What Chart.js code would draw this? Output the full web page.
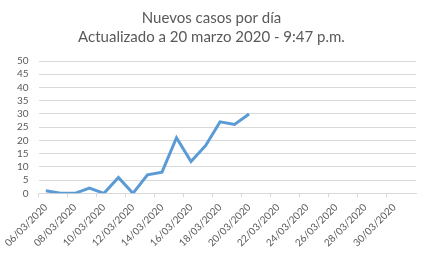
<!DOCTYPE html>
<html>
<head>
<meta charset="utf-8">
<script src="https://cdn.jsdelivr.net/npm/chart.js@4"></script>
<style>
  html, body { margin: 0; padding: 0; background: #fff; }
  #wrap { width: 424px; height: 254px; }
</style>
</head>
<body>
<div id="wrap"><canvas id="myChart" width="424" height="254"></canvas></div>
<script>
// fechas del 06/03 al 31/03
const dias = [
  "06/03/2020", "07/03/2020", "08/03/2020", "09/03/2020", "10/03/2020",
  "11/03/2020", "12/03/2020", "13/03/2020", "14/03/2020", "15/03/2020",
  "16/03/2020", "17/03/2020", "18/03/2020", "19/03/2020", "20/03/2020",
  "21/03/2020", "22/03/2020", "23/03/2020", "24/03/2020", "25/03/2020",
  "26/03/2020", "27/03/2020", "28/03/2020", "29/03/2020", "30/03/2020",
  "31/03/2020"
];
const nuevosCasos = [1, 0, 0, 2, 0, 6, 0, 7, 8, 21, 12, 18, 27, 26, 30,
  null, null, null, null, null, null, null, null, null, null, null];
const yTicks = { min: 0, max: 50, step: 5 };
const titulo = ["Nuevos casos por día", "Actualizado a 20 marzo 2020 - 9:47 p.m."];

const gris = "#595959";

window.onload = function() {
  const ctx = document.getElementById("myChart").getContext("2d");

  new Chart(ctx, {
    type: "line",
    data: {
      labels: dias,
      datasets: [
        {
          label: "Nuevos casos",
          data: nuevosCasos,
          borderColor: "#5b9bd5",
          backgroundColor: "#5b9bd5",
          borderWidth: 3,
          pointRadius: 0,
          tension: 0,
          spanGaps: false
        }
      ]
    },
    options: {
      responsive: false,
      animation: false,
      layout: { padding: { left: 7, right: 8, top: 4, bottom: 1 } },
      plugins: {
        legend: { display: false },
        tooltip: { enabled: false },
        title: {
          display: true,
          text: titulo,
          color: gris,
          font: { family: "Lato", size: 15, weight: "normal", lineHeight: 1.3 },
          padding: { top: 4, bottom: 14 }
        }
      },
      scales: {
        x: {
          offset: true,
          grid: {
            offset: true,
            drawOnChartArea: false,
            drawTicks: true,
            tickLength: 4,
            color: (c) => (c.index % 2 === 0 ? "#d9d9d9" : "rgba(0,0,0,0)")
          },
          border: { color: "#d9d9d9" },
          ticks: {
            autoSkip: false,
            maxRotation: 45,
            minRotation: 45,
            color: gris,
            padding: 4,
            font: { family: "Lato", size: 10 },
            callback: function(val, i) {
              return i % 2 === 0 ? dias[i] : "";
            }
          }
        },
        y: {
          min: yTicks.min,
          max: yTicks.max,
          grid: { color: "#d9d9d9", drawTicks: false },
          border: { display: false },
          ticks: {
            stepSize: yTicks.step,
            autoSkip: false,
            color: gris,
            padding: 10,
            font: { family: "Lato", size: 10 }
          }
        }
      }
    }
  });
};
</script>
</body>
</html>
